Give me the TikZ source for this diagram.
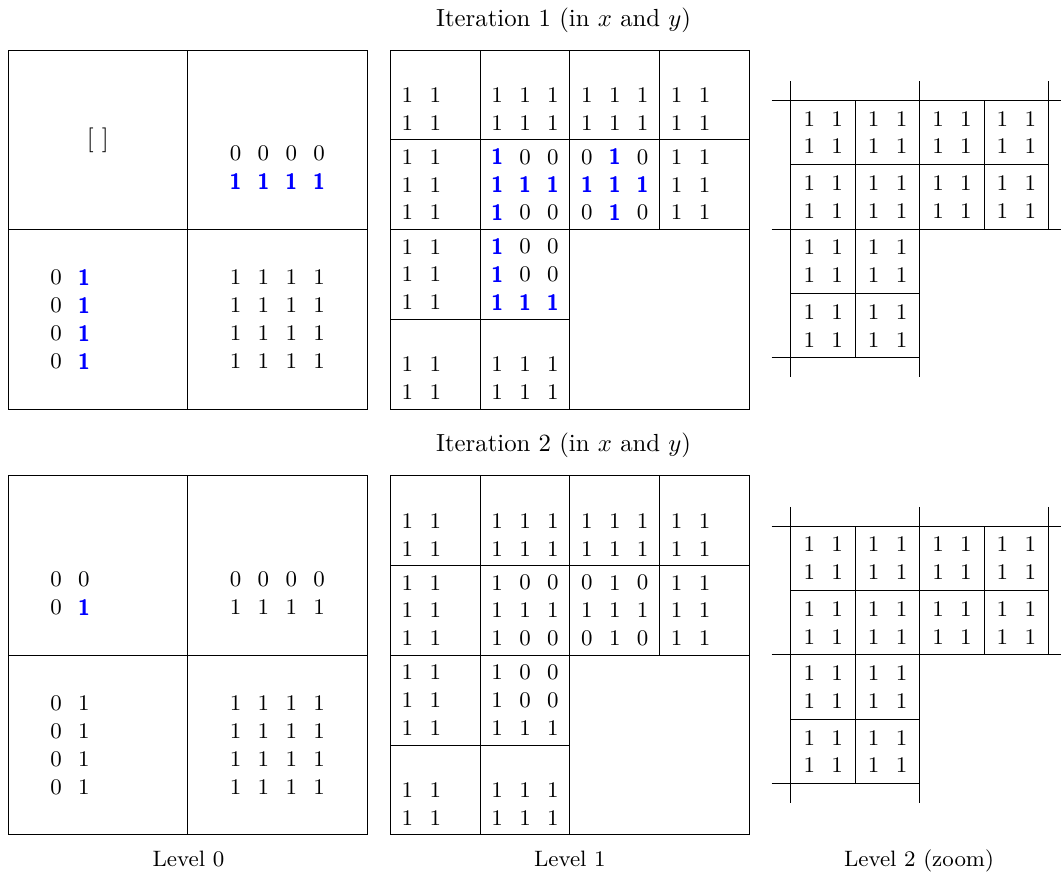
\documentclass[tikz,border=0pt]{standalone}
\usepackage{xcolor}
\usetikzlibrary{math}
\definecolor{hblue}{RGB}{0,0,255}

\tikzset{dig/.style={inner sep=0pt,font=\small}}
\DeclareRobustCommand{\hl}{\textcolor{hblue}{\sffamily\bfseries 1}}
\DeclareRobustCommand{\one}{\ifnum\k=1 \hl\else 1\fi}
% block of digits, first entry at (#2,#3)
\newcommand{\digits}[4]{%
  \foreach \row [count=\r] in {#4}{
    \foreach \v [count=\c] in \row{
      \node[dig] (#1-\r-\c) at ({#2+(\c-1)*\d},{#3-(\r-1)*\d}) {\v};
    }
  }
}

\begin{document}
\begin{tikzpicture}[x=1.274cm,y=1.274cm]
\tikzmath{
\d=0.31;
\s=0.7176;
\e=0.215;
}
\useasboundingbox (0,0) rectangle (11.822,9.738);

%titles
\node[anchor=base] (t1) at (6.28,9.44) {Iteration 1 (in $x$ and $y$)};
\node[anchor=base] (t2) at (6.28,4.705) {Iteration 2 (in $x$ and $y$)};
\node[anchor=base,font=\small] (lev0) at (2.1,0.081) {Level 0};
\node[anchor=base,font=\small] (lev1) at (6.35,0.081) {Level 1};
\node[anchor=base,font=\small] (lev2) at (10.24,0.081) {Level 2 (zoom)};

%top left blocks of level 0
\node[dig,font=\normalsize] (a1tl) at (1.09,8.18) {[ ]};
\digits{a2tl}{1.09-1.5*\d}{3.435-0.5*\d}{{0,0},{0,\hl}}

\foreach \Y/\k in {5.18/1,0.435/2}{
  %level 0
  \draw (0.09,\Y) rectangle ++(4,4);
  \draw (2.09,\Y) -- ++(0,4);
  \draw (0.09,\Y+2) -- ++(4,0);
  \digits{a\k tr}{3.09-1.5*\d}{\Y+3-0.5*\d}{{0,0,0,0},{\one,\one,\one,\one}}
  \digits{a\k bl}{1.09-1.5*\d}{\Y+1+1.5*\d}{{0,\one},{0,\one},{0,\one},{0,\one}}
  \digits{a\k br}{3.09-1.5*\d}{\Y+1+1.5*\d}{{1,1,1,1},{1,1,1,1},{1,1,1,1},{1,1,1,1}}

  %level 1
  \draw (4.35,\Y) rectangle ++(4,4);
  \draw (5.35,\Y) -- ++(0,4);
  \draw (6.35,\Y) -- ++(0,4);
  \draw (7.35,\Y+2) -- ++(0,2);
  \draw (4.35,\Y+3) -- ++(4,0);
  \draw (4.35,\Y+2) -- ++(4,0);
  \draw (4.35,\Y+1) -- ++(2,0);
  \digits{b\k c11}{4.54}{\Y+3.5}{{1,1},{1,1}}
  \digits{b\k c12}{5.54}{\Y+3.5}{{1,1,1},{1,1,1}}
  \digits{b\k c13}{6.54}{\Y+3.5}{{1,1,1},{1,1,1}}
  \digits{b\k c14}{7.54}{\Y+3.5}{{1,1},{1,1}}
  \digits{b\k c21}{4.54}{\Y+2.5+\d}{{1,1},{1,1},{1,1}}
  \digits{b\k c22}{5.54}{\Y+2.5+\d}{{\one,0,0},{\one,\one,\one},{\one,0,0}}
  \digits{b\k c23}{6.54}{\Y+2.5+\d}{{0,\one,0},{\one,\one,\one},{0,\one,0}}
  \digits{b\k c24}{7.54}{\Y+2.5+\d}{{1,1},{1,1},{1,1}}
  \digits{b\k c31}{4.54}{\Y+1.5+\d}{{1,1},{1,1},{1,1}}
  \digits{b\k c32}{5.54}{\Y+1.5+\d}{{\one,0,0},{\one,0,0},{\one,\one,\one}}
  \digits{b\k c41}{4.54}{\Y+0.5}{{1,1},{1,1}}
  \digits{b\k c42}{5.54}{\Y+0.5}{{1,1,1},{1,1,1}}

  %level 2
  \begin{scope}[shift={(8.813,\Y+3.44)}]
    \draw (0,\e) -- (0,-4*\s-\e);
    \draw (2*\s,\e) -- (2*\s,-4*\s-\e);
    \draw (4*\s,\e) -- (4*\s,-2*\s);
    \draw (\s,0) -- (\s,-4*\s);
    \draw (3*\s,0) -- (3*\s,-2*\s);
    \draw (-\e,0) -- (4*\s+\e,0);
    \draw (0,-\s) -- (4*\s,-\s);
    \draw (-\e,-2*\s) -- (4*\s+\e,-2*\s);
    \draw (0,-3*\s) -- (2*\s,-3*\s);
    \draw (-\e,-4*\s) -- (2*\s,-4*\s);
    \foreach \i/\j in {1/1,2/1,3/1,4/1,1/2,2/2,3/2,4/2,1/3,2/3,1/4,2/4}{
      \digits{c\k c\j\i}{(\i-0.5)*\s-0.5*\d}{-(\j-0.5)*\s+0.5*\d}{{1,1},{1,1}}
    }
  \end{scope}
}

\end{tikzpicture}
\end{document}
